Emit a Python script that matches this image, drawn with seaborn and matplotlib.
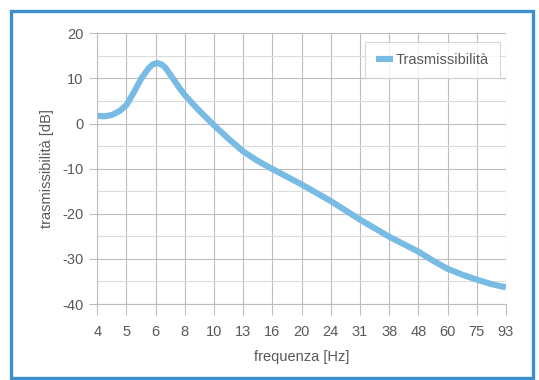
import matplotlib
matplotlib.use("Agg")
import matplotlib.pyplot as plt
import seaborn as sns
import pandas as pd
from matplotlib.patches import Rectangle
from matplotlib.lines import Line2D
from matplotlib.ticker import MultipleLocator

# ---- data ----
freq_labels = ["4", "5", "6", "8", "10", "13", "16", "20", "24", "31", "38", "48", "60", "75", "93"]
# position along the (equally spaced) frequency axis, in label steps
freq_pos = [0, 0.25, 0.5, 0.77, 1.0, 1.25, 1.5, 1.75, 1.9, 2.05, 2.2, 2.33, 2.6, 2.8,
            3.0, 3.25, 3.5, 3.75, 4.0, 4.5, 5.0, 5.5, 6.0, 7.0, 8.0, 9.0, 10.0,
            11.0, 11.5, 12.0, 12.5, 13.0, 13.5, 14.0]
trans_db = [1.7, 1.6, 1.9, 2.8, 4.1, 6.9, 9.9, 12.2, 13.1, 13.4, 13.1, 12.4, 9.9, 8.0,
            6.3, 4.5, 2.8, 1.2, -0.4, -3.4, -6.2, -8.3, -10.1, -13.5, -17.2, -21.3, -25.1,
            -28.4, -30.4, -32.2, -33.5, -34.6, -35.6, -36.3]
series_name = "Trasmissibilità"

df = pd.DataFrame({"pos": freq_pos, "db": trans_db, "serie": series_name})

sns.set_style("white")
plt.rcParams["font.family"] = ["Liberation Sans", "DejaVu Sans"]
plt.rcParams["axes.unicode_minus"] = False

W, H = 539, 380
fig = plt.figure(figsize=(W / 100, H / 100), dpi=100)
ax = fig.add_axes([97.3 / W, 1 - 304 / H, (506 - 97.3) / W, (304 - 33.3) / H])

txt = "#595959"
major_c = "#bdbdbd"
minor_c = "#dcdcdc"
line_c = "#78bbe4"

sns.lineplot(data=df, x="pos", y="db", hue="serie", palette=[line_c],
             linewidth=4.4, sort=False, ax=ax, legend=False)
for l in ax.get_lines():
    l.set_solid_capstyle("butt")
    l.set_solid_joinstyle("round")

ax.set_xlim(0, 14)
ax.set_ylim(-40, 20)
ax.set_xticks(range(len(freq_labels)))
ax.set_xticklabels(freq_labels)
ax.yaxis.set_major_locator(MultipleLocator(10))
ax.yaxis.set_minor_locator(MultipleLocator(5))

ax.grid(True, which="major", axis="both", color=major_c, linewidth=0.8)
ax.grid(True, which="minor", axis="y", color=minor_c, linewidth=0.8)
ax.set_axisbelow(True)
for s in ["top", "right"]:
    ax.spines[s].set_visible(False)
for s in ["left", "bottom"]:
    ax.spines[s].set_color(major_c)
    ax.spines[s].set_linewidth(0.8)

ax.tick_params(axis="y", which="major", length=6, width=0.8, color=major_c, pad=4,
               labelsize=10.5, labelcolor=txt, left=True)
ax.tick_params(axis="y", which="minor", length=0)
ax.tick_params(axis="x", which="major", length=8, width=0.8, color=major_c, pad=7,
               labelsize=10.5, labelcolor=txt, bottom=True)

ax.set_xlabel("frequenza [Hz]", fontsize=10.5, color=txt, labelpad=8)
ax.set_ylabel("trasmissibilità [dB]", fontsize=10.5, color=txt, labelpad=6)

h = [Line2D([0], [0], color=line_c, linewidth=4.4, solid_capstyle="butt")]
leg = ax.legend(h, [series_name], loc="upper right",
                bbox_to_anchor=(500 / W, 1 - 41.7 / H), bbox_transform=fig.transFigure,
                fontsize=10.5, frameon=True, fancybox=False, borderpad=0.75,
                handlelength=1.2, handletextpad=0.2, borderaxespad=0)
leg.get_frame().set_edgecolor("#cfcfcf")
leg.get_frame().set_linewidth(0.8)
for t in leg.get_texts():
    t.set_color(txt)

# blue frame round the whole picture
fig.patches.append(Rectangle((11 / W, 1 - 378 / H), (533 - 11) / W, (378 - 11) / H,
                             transform=fig.transFigure, fill=False,
                             edgecolor="#3d8fcf", linewidth=2.4, zorder=10))

fig.savefig("out.png", dpi=100)
